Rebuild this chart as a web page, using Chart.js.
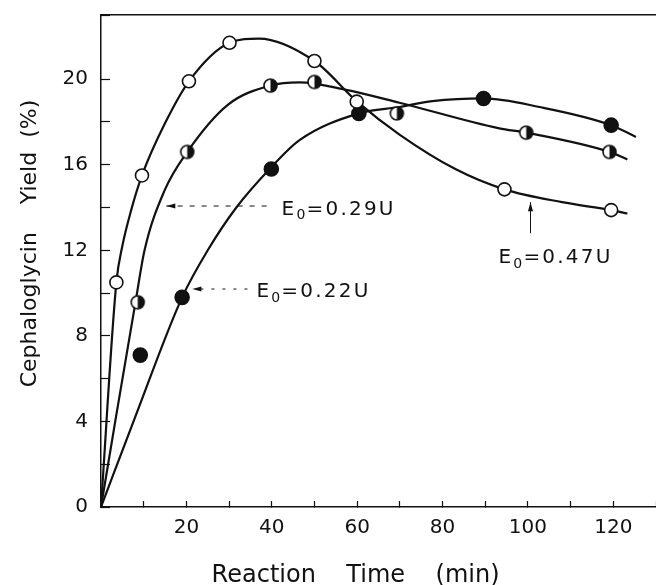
<!DOCTYPE html>
<html>
<head>
<meta charset="utf-8">
<script src="https://cdn.jsdelivr.net/npm/chart.js@4/dist/chart.umd.min.js"></script>
<style>
  html, body { margin: 0; background: #fff; }
  canvas { display: block; }
</style>
</head>
<body>
<canvas id="chart" width="656" height="585"></canvas>
<script>
// Cephaloglycin yield vs reaction time, three enzyme loadings (E0)

const INK = "#111";
const FONT = "'DejaVu Sans', sans-serif";

// measured points (min, %)
const t047 = [3.6, 9.6, 20.6, 30.1, 50, 59.9, 94.5, 119.5];
const y047 = [10.5, 15.5, 19.9, 21.7, 20.85, 18.95, 14.85, 13.88];
const t029 = [8.6, 20.2, 39.7, 50, 69.3, 99.6, 119.1];
const y029 = [9.57, 16.6, 19.7, 19.87, 18.4, 17.5, 16.6];
const t022 = [9.2, 19, 39.9, 60.4, 89.6, 119.5];
const y022 = [7.1, 9.8, 15.8, 18.4, 19.1, 17.85];

// hand-drawn fitted curves
const c047t = [0, 3.6, 5, 7.1, 9.6, 14.9, 20.6, 30.1, 37, 50, 60, 70, 83, 94.5, 108, 119.5, 123.3];
const c047y = [0, 10.5, 12.2, 13.9, 15.5, 17.9, 19.9, 21.7, 21.9, 20.85, 18.95, 17.4, 15.8, 14.85, 14.25, 13.88, 13.72];
const c029t = [0, 3.5, 8.1, 10.2, 14.9, 20.2, 29.7, 39.7, 46.5, 57.4, 69.9, 93.3, 99.6, 119.1, 123.3];
const c029y = [0, 4.2, 9.6, 12.0, 14.8, 16.6, 18.8, 19.7, 19.85, 19.5, 18.9, 17.7, 17.5, 16.6, 16.25];
const c022t = [0, 8, 19, 25, 31.7, 39.5, 46.5, 60.4, 69.9, 77.6, 89.6, 102.7, 119.5, 125.3];
const c022y = [0, 4.2, 9.8, 12.0, 14.0, 15.8, 17.15, 18.4, 18.7, 18.97, 19.1, 18.7, 17.85, 17.3];

// axis ranges / tick steps
const X_MAX = 130, X_STEP = 10, X_LABEL_EVERY = 20;
const Y_MAX = 23, Y_STEP = 2, Y_LABEL_EVERY = 4;

// E0 labels with their arrows (data units)
const notes = [
  { label: "0.29U", tx: 42.3, ty: 13.9, from: [38.8, 14.07], to: [15.3, 14.07], dash: [5, 7] },
  { label: "0.22U", tx: 36.4, ty: 10.05, from: [34.3, 10.19], to: [21.4, 10.19], dash: [3, 8] },
  { label: "0.47U", tx: 93.1, ty: 11.64, from: [100.6, 12.8], to: [100.6, 14.25], dash: [] },
];

const zip = (xs, ys) => xs.map((x, i) => ({ x, y: ys[i] }));

function halfDot(r) {
  const c = document.createElement("canvas");
  const s = Math.ceil(r * 2 + 4);
  c.width = c.height = s;
  const g = c.getContext("2d");
  const m = s / 2;
  g.beginPath(); g.arc(m, m, r, 0, Math.PI * 2); g.fillStyle = "#fff"; g.fill();
  g.beginPath(); g.arc(m, m, r, -Math.PI / 2, Math.PI / 2); g.closePath(); g.fillStyle = INK; g.fill();
  g.beginPath(); g.arc(m, m, r, 0, Math.PI * 2); g.lineWidth = 1.6; g.strokeStyle = INK; g.stroke();
  return c;
}

function curve(xs, ys) {
  return {
    type: "line", data: zip(xs, ys), order: 2,
    borderColor: INK, borderWidth: 2.2, pointRadius: 0,
    cubicInterpolationMode: "monotone", fill: false,
  };
}
function marks(xs, ys, style) {
  return {
    type: "scatter", data: zip(xs, ys), order: 1,
    pointRadius: 6.5, borderWidth: 1.6, borderColor: INK, ...style,
  };
}

// keep the plot box where the figure has it: no label overhang padding
function fixBox(w, h) {
  return (s) => {
    if (w != null) s.width = w;
    if (h != null) s.height = h;
    s.paddingTop = s.paddingBottom = s.paddingLeft = s.paddingRight = 0;
  };
}

const notesPlugin = {
  id: "notes",
  afterDatasetsDraw(chart) {
    const { ctx, scales: { x, y } } = chart;
    ctx.save();
    ctx.strokeStyle = INK; ctx.fillStyle = INK;
    notes.forEach((n) => {
      const x1 = x.getPixelForValue(n.from[0]), y1 = y.getPixelForValue(n.from[1]);
      const x2 = x.getPixelForValue(n.to[0]), y2 = y.getPixelForValue(n.to[1]);
      ctx.lineWidth = 1;
      ctx.setLineDash(n.dash);
      ctx.beginPath(); ctx.moveTo(x1, y1); ctx.lineTo(x2, y2); ctx.stroke();
      ctx.setLineDash([]);
      const a = Math.atan2(y2 - y1, x2 - x1);
      ctx.beginPath();
      ctx.moveTo(x2, y2);
      ctx.lineTo(x2 - 9 * Math.cos(a) + 2.5 * Math.sin(a), y2 - 9 * Math.sin(a) - 2.5 * Math.cos(a));
      ctx.lineTo(x2 - 9 * Math.cos(a) - 2.5 * Math.sin(a), y2 - 9 * Math.sin(a) + 2.5 * Math.cos(a));
      ctx.closePath(); ctx.fill();

      // "E" + subscript 0 + "=value"
      let px = x.getPixelForValue(n.tx);
      const py = y.getPixelForValue(n.ty);
      ctx.textBaseline = "middle"; ctx.textAlign = "left";
      ctx.letterSpacing = "2.2px";
      ctx.font = `20px ${FONT}`;
      ctx.fillText("E", px, py); px += ctx.measureText("E").width;
      ctx.font = `14px ${FONT}`;
      ctx.fillText("0", px, py + 6); px += ctx.measureText("0").width - 1;
      ctx.font = `20px ${FONT}`;
      ctx.fillText("=" + n.label, px, py);
    });
    ctx.restore();
  },
};

new Chart(document.getElementById("chart"), {
  data: {
    datasets: [
      curve(c047t, c047y),
      curve(c029t, c029y),
      curve(c022t, c022y),
      marks(t047, y047, { backgroundColor: "#fff" }),
      marks(t029, y029, { pointStyle: halfDot(6.5) }),
      marks(t022, y022, { backgroundColor: INK, pointRadius: 7 }),
    ],
  },
  options: {
    responsive: false,
    animation: false,
    events: [],
    devicePixelRatio: 1,
    layout: { autoPadding: false, padding: { top: 15, right: 0, left: 0, bottom: 0 } },
    plugins: { legend: { display: false }, tooltip: { enabled: false } },
    scales: {
      x: {
        type: "linear", position: "bottom", min: 0, max: X_MAX,
        afterFit: fixBox(null, 78),
        border: { display: true, color: INK, width: 1.5 },
        grid: { drawOnChartArea: false, drawTicks: true, tickLength: -6, tickColor: INK, tickWidth: 1.2 },
        ticks: {
          stepSize: X_STEP, autoSkip: false, maxRotation: 0, padding: 15, color: INK,
          font: { family: FONT, size: 20 },
          callback: (v) => (v > 0 && v % X_LABEL_EVERY === 0 ? v : ""),
        },
        title: {
          display: true, text: "Reaction    Time    (min)      ", color: INK,
          font: { family: FONT, size: 24, lineHeight: 0.8 }, padding: { top: 0, bottom: 0 },
        },
      },
      x2: {
        type: "linear", position: "top", min: 0, max: X_MAX,
        afterFit: fixBox(null, 0),
        border: { display: true, color: INK, width: 1.5 },
        grid: { drawOnChartArea: false, drawTicks: false },
        ticks: { display: false },
      },
      y: {
        min: 0, max: Y_MAX,
        afterFit: fixBox(101, null),
        border: { display: true, color: INK, width: 1.5 },
        grid: { drawOnChartArea: false, drawTicks: true, tickLength: -9, tickColor: INK, tickWidth: 1.2 },
        ticks: {
          stepSize: Y_STEP, autoSkip: false, padding: 22, color: INK,
          font: { family: FONT, size: 20 },
          callback: (v) => (v % Y_LABEL_EVERY === 0 ? v : ""),
        },
        title: {
          display: true, text: "     Cephaloglycin    Yield  (%)", color: INK,
          font: { family: FONT, size: 22 }, padding: { top: 17, bottom: 0 },
        },
      },
    },
  },
  plugins: [notesPlugin],
});
</script>
</body>
</html>
